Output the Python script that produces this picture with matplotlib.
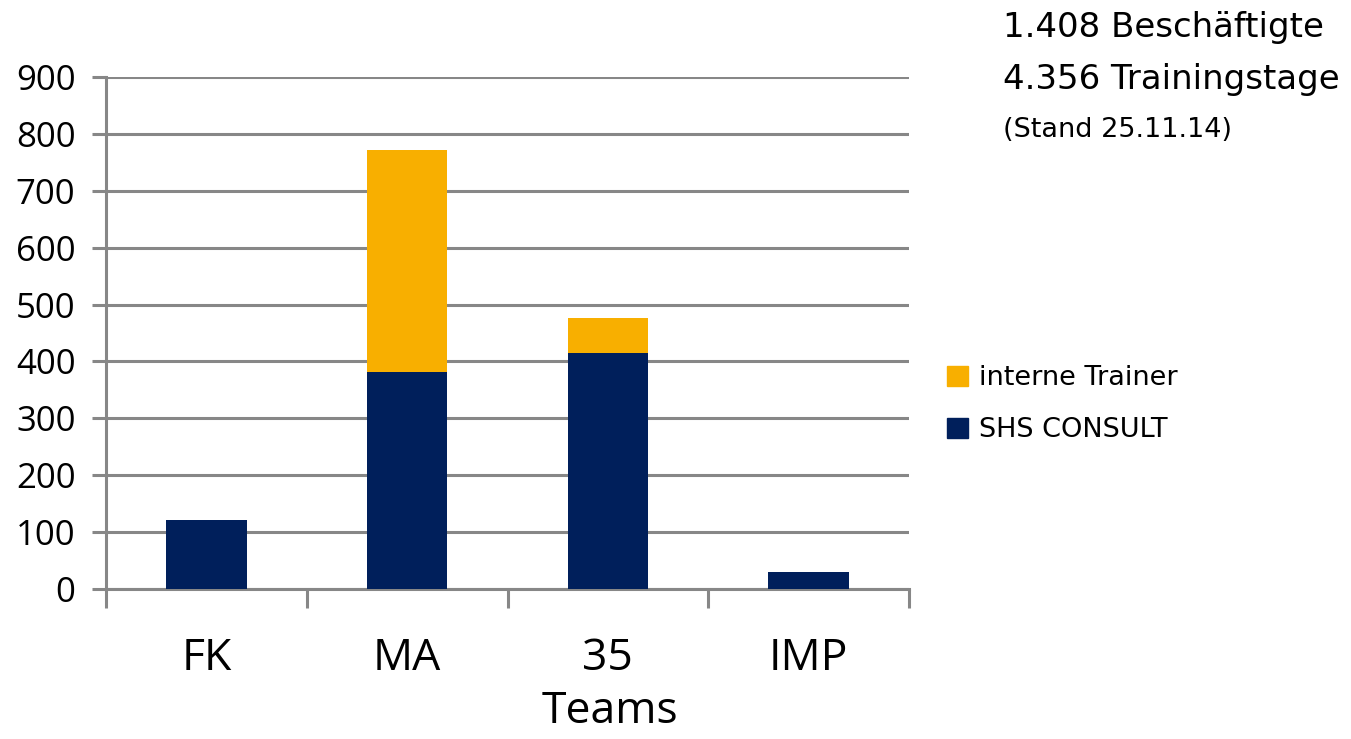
import matplotlib
matplotlib.use("Agg")
import matplotlib.pyplot as plt
from matplotlib.patches import Patch

teams = ["FK", "MA", "35", "IMP"]
shs = [121, 381, 415, 30]
intern = [0, 391, 61, 0]
y_ticks = [0, 100, 200, 300, 400, 500, 600, 700, 800, 900]

navy = "#001F5B"
orange = "#F8AF00"
grau = "#878787"

plt.rcParams['font.family'] = ['Open Sans', 'DejaVu Sans']

fig = plt.figure(figsize=(13.51, 7.39), dpi=100)
W, H = 1351, 739
ax = fig.add_axes([106 / W, (H - 589) / H, (909 - 106) / W, (589 - 77) / H])

x = list(range(len(teams)))
ax.bar(x, shs, width=0.4, color=navy, zorder=3)
ax.bar(x, intern, width=0.4, bottom=shs, color=orange, zorder=3)

ax.set_xlim(-0.5, len(teams) - 0.5)
ax.set_ylim(0, 900)
ax.set_yticks(y_ticks)
ax.yaxis.grid(True, color=grau, linewidth=2.2, zorder=0)
ax.set_axisbelow(True)

# Kategoriegrenzen als Striche, Namen in der Mitte
ax.set_xticks([i - 0.5 for i in range(len(teams) + 1)])
ax.set_xticklabels([])
ax.set_xticks(x, minor=True)
ax.set_xticklabels(teams, minor=True, fontsize=32)
ax.tick_params(axis="x", which="major", length=14, width=2.2, color=grau)
ax.tick_params(axis="x", which="minor", length=0, pad=34)
ax.tick_params(axis="y", length=10, width=2.2, color=grau, labelsize=25, pad=12)

for s in ["top", "right"]:
    ax.spines[s].set_visible(False)
for s in ["left", "bottom"]:
    ax.spines[s].set_color(grau)
    ax.spines[s].set_linewidth(2.2)

ax.set_xlabel("Teams", fontsize=32, labelpad=6, x=(610 - 106) / 803)

handles = [Patch(color=orange, label="interne Trainer"),
           Patch(color=navy, label="SHS CONSULT")]
fig.legend(handles=handles, loc="upper left", bbox_to_anchor=(923 / W, 1 - 341 / H),
           frameon=False, handlelength=0.75, handleheight=0.75,
           handletextpad=0.4, labelspacing=0.95,
           prop={'family': ['DejaVu Sans'], 'size': 19.5})

fig.text(1003 / W, 1 - 28 / H, "1.408 Beschäftigte", fontsize=24.5, va="center",
         family=['DejaVu Sans'])
fig.text(1003 / W, 1 - 80 / H, "4.356 Trainingstage", fontsize=24.5, va="center",
         family=['DejaVu Sans'])
fig.text(1003 / W, 1 - 130 / H, "(Stand 25.11.14)", fontsize=19.5, va="center",
         family=['DejaVu Sans'])

fig.savefig("out.png", dpi=100)
